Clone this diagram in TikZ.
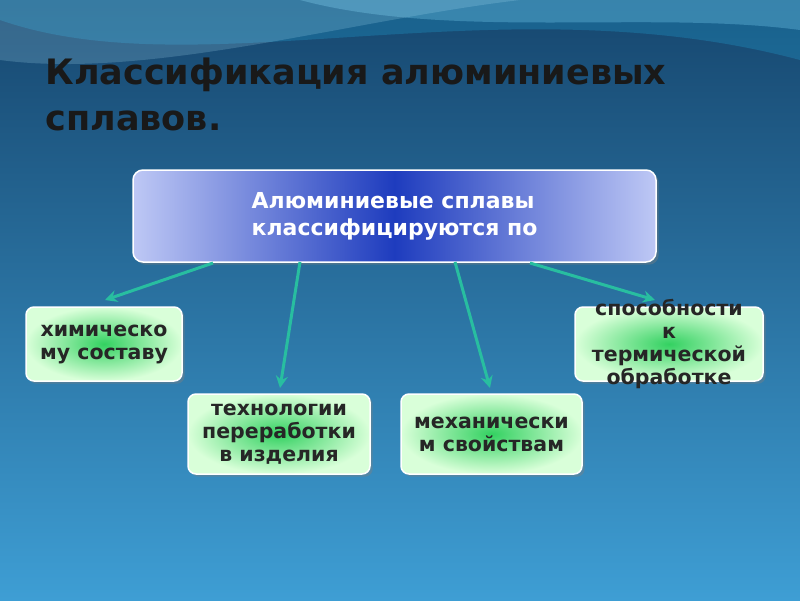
\documentclass[tikz,border=0pt]{standalone}
\usepackage{fontspec}
\setmainfont{DejaVu Sans}
\usetikzlibrary{arrows.meta,shadows}
\begin{document}
\begin{tikzpicture}[x=1pt,y=-1pt,
  child/.style={draw=white,line width=1.5pt,rounded corners=8pt,inner color=green!55!teal!80!white,outer color=green!15!white,drop shadow={opacity=0.4},font=\bfseries\fontsize{20.5}{23}\selectfont,text=black!85,align=center,inner sep=1pt},
  conn/.style={draw={rgb,255:red,40;green,190;blue,160},line width=3pt,-{Stealth[open,length=12pt,width=12pt,fill={rgb,255:red,40;green,190;blue,160}]}}]
\useasboundingbox (0,0) rectangle (800,600);
\fill[top color={rgb,255:red,22;green,70;blue,110},bottom color={rgb,255:red,62;green,158;blue,212}] (0,0) rectangle (800,600);
% waves
\fill[cyan!70!teal,opacity=0.3] (0,20) .. controls (200,90) and (500,-20) .. (800,60) -- (800,0) -- (0,0) -- cycle;
\fill[cyan!50!white,opacity=0.3] (300,0) .. controls (450,40) and (650,10) .. (800,30) -- (800,0) -- cycle;
\fill[cyan!30!white,opacity=0.2] (0,60) .. controls (150,80) and (350,20) .. (520,0) -- (0,0) -- cycle;
\node[anchor=north west,align=left,font=\bfseries\fontsize{35}{46}\selectfont,text=black!90] (title) at (42,54) {Классификация алюминиевых\\сплавов.};
\node[draw=white,line width=1.5pt,rounded corners=10pt,minimum width=523pt,minimum height=92pt,left color={rgb,255:red,190;green,200;blue,245},right color={rgb,255:red,190;green,200;blue,245},middle color={rgb,255:red,30;green,60;blue,190},text=white,font=\bfseries\fontsize{22}{27}\selectfont,align=left,drop shadow={opacity=0.4}] (main) at (394.5,216) {Алюминиевые сплавы\\классифицируются по};
\node[child,minimum width=156pt,minimum height=74pt] (c1) at (104,344) {химическо\\му составу};
\node[child,minimum width=182pt,minimum height=80pt] (c2) at (279,434) {технологии\\переработки\\в изделия};
\node[child,minimum width=181pt,minimum height=80pt] (c3) at (491.5,434) {механически\\м свойствам};
\node[child,minimum width=188pt,minimum height=74pt] (c4) at (669,344) {};
\node[font=\bfseries\fontsize{20.5}{23}\selectfont,text=black!85,align=center,inner sep=0pt] (c4t) at (669,344) {способности\\к\\термической\\обработке};
\coordinate (a1) at (213,263); \coordinate (a2) at (300,262);
\coordinate (a3) at (455,262); \coordinate (a4) at (530,263);
\coordinate (b1) at (105,300); \coordinate (b2) at (280,388);
\coordinate (b3) at (490,388); \coordinate (b4) at (655,300);
\foreach \i in {1,2,3,4}{\draw[conn] (a\i) -- (b\i);}
\end{tikzpicture}
\end{document}
